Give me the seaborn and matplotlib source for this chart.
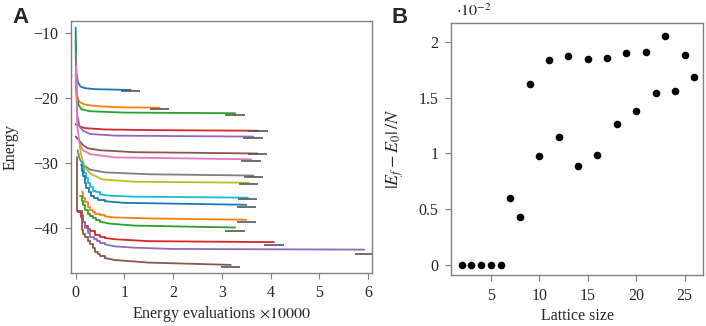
import matplotlib
matplotlib.use("Agg")
import matplotlib.pyplot as plt
import matplotlib.ticker as mticker
import seaborn as sns
import numpy as np
import pandas as pd

# ---- Panel A: energy traces (x in units of 10000 evaluations) ----
curve_x = [
    [0.0, 0.01, 0.05, 0.1, 0.2, 0.4, 0.7, 1.13],
    [0.0, 0.02, 0.08, 0.2, 0.5, 1.0, 1.72],
    [0.0, 0.02, 0.06, 0.12, 0.3, 1.0, 3.27],
    [0.0, 0.05, 0.1, 0.2, 0.6, 1.5, 3.74],
    [0.0, 0.03, 0.08, 0.15, 0.3, 0.8, 3.64],
    [0.0, 0.05, 0.15, 0.25, 0.5, 1.2, 3.73],
    [0.01, 0.03, 0.08, 0.15, 0.3, 0.8, 3.6],
    [0.04, 0.08, 0.15, 0.3, 0.6, 1.5, 3.65],
    [0.08, 0.12, 0.18, 0.3, 0.55, 1.2, 3.55],
    [0.12, 0.15, 0.18, 0.22, 0.25, 0.3, 0.35, 0.42, 0.5, 0.7, 1.2, 3.53],
    [0.1, 0.13, 0.16, 0.19, 0.22, 0.27, 0.32, 0.38, 0.45, 0.6, 1.0, 3.5],
    [0.12, 0.16, 0.2, 0.25, 0.3, 0.35, 0.4, 0.5, 0.6, 0.8, 1.5, 3.5],
    [0.08, 0.12, 0.15, 0.2, 0.25, 0.3, 0.35, 0.42, 0.5, 0.7, 1.2, 3.27],
    [0.05, 0.1, 0.15, 0.2, 0.25, 0.3, 0.4, 0.5, 0.6, 0.8, 1.5, 4.07],
    [0.1, 0.15, 0.2, 0.25, 0.3, 0.37, 0.44, 0.5, 0.6, 0.8, 1.2, 2.0, 5.92],
    [0.03, 0.03, 0.12, 0.16, 0.2, 0.25, 0.3, 0.35, 0.4, 0.45, 0.5, 0.6, 0.8, 1.5, 3.18],
]
curve_e = [
    [-9.1, -16.0, -17.6, -18.2, -18.45, -18.6, -18.65, -18.72],
    [-17.5, -19.5, -20.6, -21.0, -21.25, -21.4, -21.45],
    [-11.0, -19.5, -21.0, -21.7, -22.0, -22.2, -22.3],
    [-24.0, -24.1, -24.4, -24.6, -24.8, -24.9, -25.0],
    [-13.0, -22.5, -24.3, -25.0, -25.5, -25.75, -25.9],
    [-25.9, -26.3, -27.2, -27.7, -28.0, -28.3, -28.5],
    [-15.0, -24.0, -27.0, -28.0, -28.6, -29.1, -29.4],
    [-28.0, -29.3, -30.2, -31.0, -31.4, -31.7, -31.9],
    [-27.2, -29.0, -30.5, -31.6, -32.5, -32.85, -33.0],
    [-29.8, -30.6, -31.5, -32.3, -33.0, -33.7, -34.2, -34.5, -34.8, -35.0, -35.15, -35.3],
    [-30.2, -31.2, -32.0, -33.0, -33.8, -34.5, -35.0, -35.3, -35.6, -35.85, -36.1, -36.4],
    [-34.5, -35.3, -36.0, -36.7, -37.2, -37.5, -37.8, -38.0, -38.2, -38.35, -38.5, -38.7],
    [-35.0, -35.8, -36.5, -37.2, -37.8, -38.2, -38.5, -38.8, -39.0, -39.3, -39.6, -39.9],
    [-37.5, -38.3, -39.0, -39.6, -40.2, -40.5, -41.0, -41.3, -41.5, -41.7, -42.0, -42.15],
    [-38.0, -39.0, -40.0, -40.7, -41.3, -41.7, -42.0, -42.3, -42.5, -42.8, -43.0, -43.2, -43.3],
    [-29.0, -37.4, -40.3, -40.9, -41.3, -42.0, -42.5, -43.0, -43.6, -44.0, -44.3, -44.6, -44.9, -45.3, -45.65],
]
# exact ground-state energies (gray marks)
e_exact = [-18.88, -21.6, -22.5, -25.1, -26.1, -28.6, -29.7, -32.1,
           -33.2, -35.5, -36.8, -39.0, -40.4, -42.6, -43.95, -46.05]
stepped = [False] * 9 + [True] * 7

# ---- Panel B: error per site (units of 1e-2) ----
lattice_size = list(range(2, 27))
rel_error = [0, 0, 0, 0, 0, 0.60, 0.43, 1.62, 0.98, 1.84, 1.15, 1.87, 0.89,
             1.845, 0.99, 1.855, 1.265, 1.90, 1.38, 1.91, 1.545, 2.05, 1.56,
             1.88, 1.68]

sns.set_style("white")
plt.rcParams['font.family'] = ['Liberation Serif', 'DejaVu Serif']
plt.rcParams['mathtext.fontset'] = 'stix'

fig = plt.figure(figsize=(7.06, 3.26), dpi=100)
axA = fig.add_axes([0.1006, 0.1626, 0.4264, 0.773])
axB = fig.add_axes([0.639, 0.156, 0.3568, 0.7725])

palette = sns.color_palette("tab10", 10)
for i in range(len(curve_x)):
    df = pd.DataFrame({'x': curve_x[i], 'E': curve_e[i]})
    col = palette[i % 10]
    if stepped[i]:
        # staircase at the start, smooth tail afterwards
        head = df[df['x'] <= 0.6]
        tail = df[df['x'] >= head['x'].iloc[-1]]
        sns.lineplot(data=head, x='x', y='E', ax=axA, color=col, estimator=None,
                     sort=False, lw=1.3, legend=False, drawstyle='steps-post')
        sns.lineplot(data=tail, x='x', y='E', ax=axA, color=col, estimator=None,
                     sort=False, lw=1.3, legend=False)
    else:
        sns.lineplot(data=df, x='x', y='E', ax=axA, color=col, estimator=None,
                     sort=False, lw=1.3, legend=False)
    xe = curve_x[i][-1]
    axA.hlines(e_exact[i], xe - 0.2, xe + 0.2, color='#555555', lw=1.2, zorder=3)

axA.set_xlim(-0.095, 6.08)
axA.set_ylim(-46.9, -8.1)
axA.set_xticks([0, 1, 2, 3, 4, 5, 6])
axA.set_yticks([-10, -20, -30, -40])
axA.set_xlabel(r'Energy evaluations $\times 10000$', fontsize=11.5, labelpad=2)
axA.set_ylabel('Energy', fontsize=11.5, labelpad=11)

dfB = pd.DataFrame({'L': lattice_size, 'err': rel_error})
sns.scatterplot(data=dfB, x='L', y='err', ax=axB, color='black', s=30,
                edgecolor='black', linewidth=0, legend=False)
axB.set_xlim(0.9, 26.9)
axB.set_ylim(-0.09, 2.165)
axB.set_xticks([5, 10, 15, 20, 25])
axB.set_yticks([0, 0.5, 1, 1.5, 2])
axB.yaxis.set_major_formatter(mticker.FormatStrFormatter('%g'))
axB.set_xlabel('Lattice size', fontsize=11.5, labelpad=3)
axB.set_ylabel(r'$|E_f - E_0|\,/N$', fontsize=13, labelpad=9)
axB.text(0.02, 1.012, r'$\cdot 10^{-2}$', transform=axB.transAxes,
         fontsize=11.5, ha='left', va='bottom')

for ax in (axA, axB):
    for sp in ax.spines.values():
        sp.set_color('#808080')
        sp.set_linewidth(1.0)
    ax.tick_params(direction='out', length=4, width=0.8, color='#808080',
                   labelsize=11.5, pad=5, left=True, bottom=True)

fig.text(0.017, 0.98, 'A', fontsize=16, fontweight='bold',
         family=['Liberation Sans', 'DejaVu Sans'], ha='left', va='top')
fig.text(0.555, 0.98, 'B', fontsize=16, fontweight='bold',
         family=['Liberation Sans', 'DejaVu Sans'], ha='left', va='top')

fig.savefig('out.png', dpi=100)
